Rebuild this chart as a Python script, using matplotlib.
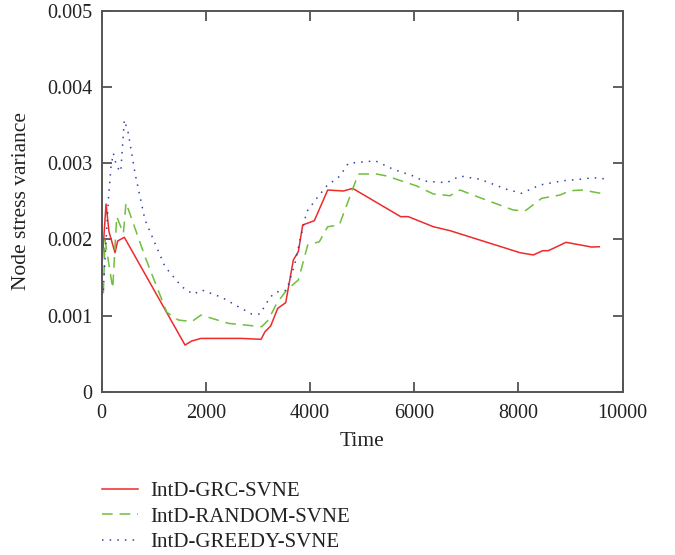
import matplotlib
matplotlib.use('Agg')
from matplotlib import pyplot as plt

# Data
grcTime = [10, 83, 140, 255, 307, 434, 1599, 1727, 1906, 2687, 3058, 3134, 3243, 3378,
           3532, 3678, 3774, 3858, 4081, 4338, 4638, 4818, 5739, 5885, 6365, 6685,
           8029, 8284, 8465, 8573, 8912, 9405, 9551]
grcVar = [0.00171, 0.002465, 0.0021, 0.001826, 0.00198, 0.002028, 0.000613, 0.000666,
          0.0007, 0.0007, 0.000688, 0.000788, 0.000863, 0.001095, 0.00117, 0.00173,
          0.00184, 0.00219, 0.002246, 0.002649, 0.002636, 0.00267, 0.002299, 0.002299,
          0.002167, 0.002115, 0.001826, 0.001796, 0.001852, 0.001852, 0.001962, 0.0019,
          0.001904]

randTime = [31, 63, 211, 288, 415, 466, 831, 1248, 1471, 1727, 1906, 2430, 3071, 3198,
            3359, 3551, 3774, 3954, 4177, 4338, 4560, 4925, 5278, 5470, 6046, 6365,
            6685, 6877, 7261, 7900, 8125, 8445, 8797, 8988, 9244, 9436, 9693]
randVar = [0.001292, 0.001993, 0.001358, 0.0023, 0.00208, 0.002482, 0.001773, 0.001043,
           0.000942, 0.00092, 0.001007, 0.000898, 0.000854, 0.000942, 0.001161, 0.001336,
           0.001467, 0.001927, 0.00197, 0.002167, 0.002189, 0.002859, 0.002859, 0.002833,
           0.002702, 0.002597, 0.002574, 0.002649, 0.002548, 0.002386, 0.002373, 0.00254,
           0.002583, 0.00264, 0.002649, 0.002623, 0.002593]

greedyTime = [31, 127, 178, 223, 288, 365, 434, 511, 639, 831, 1023, 1215, 1536, 1758,
              1919, 2303, 2622, 2879, 3038, 3230, 3359, 3455, 3551, 3710, 3806, 3935,
              4127, 4319, 4574, 4733, 5086, 5246, 5597, 5981, 6173, 6622, 6877, 7261,
              7774, 8061, 8413, 8860, 9180, 9436, 9693]
greedyVar = [0.001336, 0.002518, 0.002955, 0.003131, 0.002955, 0.002889, 0.003568,
             0.003394, 0.002868, 0.002255, 0.001949, 0.001642, 0.001379, 0.001279,
             0.001336, 0.00124, 0.001116, 0.00102, 0.00102, 0.00124, 0.001313, 0.001313,
             0.001336, 0.001686, 0.001992, 0.002364, 0.00254, 0.002702, 0.002833, 0.003,
             0.003021, 0.003034, 0.002921, 0.002833, 0.002767, 0.002745, 0.002833,
             0.00279, 0.002658, 0.002606, 0.002715, 0.002771, 0.00279, 0.002811, 0.002793]

labels = ['IntD-GRC-SVNE', 'IntD-RANDOM-SVNE', 'IntD-GREEDY-SVNE']
xticks = [0, 2000, 4000, 6000, 8000, 10000]
yticks = [0, 0.001, 0.002, 0.003, 0.004, 0.005]

plt.rc('font', family=['Liberation Serif', 'DejaVu Serif'], size=14.5)

fig = plt.figure(figsize=(6.75, 5.55), dpi=100)
ax = fig.add_axes([0.1507, 0.2942, 0.7718, 0.686])

l1, = ax.plot(grcTime, grcVar, color='#ee2a2a', lw=1.1, ls='-')
l2, = ax.plot(randTime, randVar, color='#6fbf3c', lw=1.1, ls=(0, (7, 4.5)))
l3, = ax.plot(greedyTime, greedyVar, color='#3344aa', lw=1.1, ls=(0, (1, 4)))

ax.set_xlim(0, 10000)
ax.set_ylim(0, 0.005)
ax.set_xticks(xticks)
ax.set_yticks(yticks)
ax.set_xticklabels([str(t) for t in xticks])
ax.set_yticklabels(['0', '0.001', '0.002', '0.003', '0.004', '0.005'])
ax.tick_params(direction='in', length=7.5, width=1.2, color='#444444',
               top=True, right=True, labelcolor='#222222')
ax.tick_params(axis='x', pad=9)
ax.tick_params(axis='y', pad=7)
for sp in ax.spines.values():
    sp.set_color('#555555')
    sp.set_linewidth(1.4)

ax.set_xlabel('Time', color='#222222', fontsize=15.5, labelpad=6)
ax.set_ylabel('Node stress variance', color='#222222', fontsize=15.5, labelpad=11)

fig.legend([l1, l2, l3], labels, loc='upper left', bbox_to_anchor=(0.139, 0.147),
           frameon=False, handlelength=1.7, handletextpad=0.62, labelspacing=0.28,
           borderaxespad=0, fontsize=15, labelcolor='#222222')

fig.savefig('out.png', dpi=100)
